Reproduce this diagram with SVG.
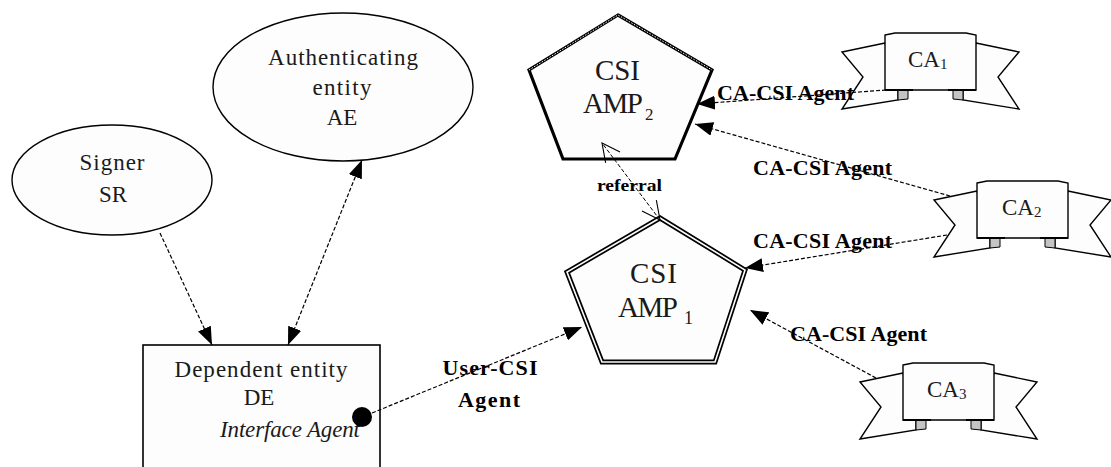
<svg xmlns="http://www.w3.org/2000/svg" xmlns:xlink="http://www.w3.org/1999/xlink" width="1111" height="467" viewBox="0 0 1111 467">
  <style>
    .node { fill: #fdfdfd; stroke: #000; stroke-width: 1.4; }
    .lbl { font-family: "Liberation Serif", "Times New Roman", serif; fill: #1a1a1a; }
    .reg { font-size: 23px; }
    .big { font-size: 29px; }
    .ca { font-size: 23px; }
    .sub { font-size: 15px; }
    .edge { font-family: "Liberation Serif", "Times New Roman", serif; font-weight: bold; font-size: 22px; fill: #000; }
    .conn { fill: none; stroke: #000; stroke-width: 1.2; stroke-dasharray: 4 2; }
    .fold { fill: #c4c4c4; stroke: #000; stroke-width: 1; }
  </style>
  <defs>
    <marker id="arrow" viewBox="0 0 18 14" refX="18" refY="7" markerWidth="18" markerHeight="14" markerUnits="userSpaceOnUse" orient="auto-start-reverse">
      <path d="M0,0 L18,7 L0,14 Z" fill="#000"/>
    </marker>
    <marker id="open" viewBox="0 0 20 20" refX="19" refY="10" markerWidth="20" markerHeight="20" markerUnits="userSpaceOnUse" orient="auto-start-reverse">
      <path d="M1,1 L19,10 L1,19" fill="none" stroke="#000" stroke-width="1.1"/>
    </marker>
    <!-- banner: back flags, folds, front panel (origin = panel top-left) -->
    <g id="ribbon">
      <path class="node" d="M0,10 L-43,19 L-22,44 L-43,76 L13,67 L13,57 Z"/>
      <path class="node" d="M91,10 L134,19 L113,44 L134,76 L78,67 L78,57 Z"/>
      <path class="fold" d="M13,57 L23,57 L23,66 L13,67 Z"/>
      <path class="fold" d="M68,57 L78,57 L78,67 L68,66 Z"/>
      <path class="node" d="M0,2 L10,0 L81,0 L91,2 V57 H0 Z"/>
      <path d="M0,57 H28 M63,57 H91" stroke="#000" stroke-width="2"/>
    </g>
  </defs>

  <rect width="1111" height="467" fill="#fff"/>

  <g id="signer">
    <ellipse class="node" cx="112" cy="180" rx="100" ry="55"/>
    <text class="lbl reg" x="112" y="170" text-anchor="middle" textLength="65">Signer</text>
    <text class="lbl reg" x="113" y="202" text-anchor="middle">SR</text>
  </g>

  <g id="authenticating-entity">
    <ellipse class="node" cx="343" cy="87" rx="130" ry="74"/>
    <text class="lbl reg" x="343" y="65" text-anchor="middle" textLength="150">Authenticating</text>
    <text class="lbl reg" x="342" y="95" text-anchor="middle" textLength="59">entity</text>
    <text class="lbl reg" x="342" y="125" text-anchor="middle">AE</text>
  </g>

  <g id="dependent-entity">
    <rect class="node" x="143" y="345" width="237" height="140" style="stroke-width:1.6"/>
    <text class="lbl reg" x="261" y="377" text-anchor="middle" textLength="173">Dependent entity</text>
    <text class="lbl reg" x="259" y="405" text-anchor="middle">DE</text>
    <text class="lbl reg" x="220" y="437" font-style="italic" textLength="140">Interface Agent</text>
    <circle cx="362" cy="417" r="10" fill="#000"/>
  </g>

  <g id="csi-amp2">
    <polygon class="node" points="618,15 712,70 675,159 563,159 529,70" style="stroke-width:3.2"/>
    <path d="M529,70 L618,15 L712,70" fill="none" stroke="#fff" stroke-width="1" stroke-dasharray="1.5 1.5"/>
    <text class="lbl big" x="595" y="80" textLength="45">CSI</text>
    <text class="lbl big" x="583" y="113" textLength="60">AMP</text>
    <text class="lbl sub" x="645" y="120" style="font-size:17px">2</text>
  </g>

  <g id="csi-amp1">
    <polygon class="node" points="660,218 745,270 715,362 602,362 567,272" style="stroke-width:5"/>
    <polygon points="660,218 745,270 715,362 602,362 567,272" fill="none" stroke="#fdfdfd" stroke-width="1.6"/>
    <text class="lbl big" x="630" y="283" textLength="47">CSI</text>
    <text class="lbl big" x="618" y="317" textLength="60">AMP</text>
    <text class="lbl sub" x="684" y="324" style="font-size:18px">1</text>
  </g>

  <g id="ca1">
    <use xlink:href="#ribbon" transform="translate(885,33)"/>
    <text class="lbl ca" x="908" y="67">CA<tspan class="sub" dy="2">1</tspan></text>
  </g>

  <g id="ca2">
    <use xlink:href="#ribbon" transform="translate(977,181)"/>
    <text class="lbl ca" x="1002" y="215">CA<tspan class="sub" dy="2">2</tspan></text>
  </g>

  <g id="ca3">
    <use xlink:href="#ribbon" transform="translate(903,363)"/>
    <text class="lbl ca" x="927" y="397">CA<tspan class="sub" dy="2">3</tspan></text>
  </g>

  <g id="connectors">
    <path class="conn" d="M160,233 L212,345" marker-end="url(#arrow)"/>
    <path class="conn" d="M362,160 L288,345" marker-start="url(#arrow)" marker-end="url(#arrow)"/>
    <path class="conn" d="M372,413 L582,327" marker-end="url(#arrow)"/>
    <path class="conn" d="M886,90 L697,104" marker-end="url(#arrow)"/>
    <path class="conn" d="M950,196 L695,124" marker-end="url(#arrow)"/>
    <path class="conn" d="M947,235 L745,268" marker-end="url(#arrow)"/>
    <path class="conn" d="M876,378 L750,310" marker-end="url(#arrow)"/>
    <path class="conn" d="M660,220 L602,143" style="stroke-width:1" marker-start="url(#open)" marker-end="url(#open)"/>

    <text class="edge" x="490" y="375" text-anchor="middle" textLength="95">User-CSI</text>
    <text class="edge" x="489" y="407" text-anchor="middle" textLength="62">Agent</text>
    <text class="edge" x="717" y="100" textLength="137">CA-CSI Agent</text>
    <text class="edge" x="753" y="175" textLength="139">CA-CSI Agent</text>
    <text class="edge" x="753" y="248" textLength="139">CA-CSI Agent</text>
    <text class="edge" x="790" y="341" textLength="137">CA-CSI Agent</text>
    <text class="edge" x="597" y="191" style="font-size:16px" textLength="65" lengthAdjust="spacingAndGlyphs">referral</text>
  </g>
</svg>
